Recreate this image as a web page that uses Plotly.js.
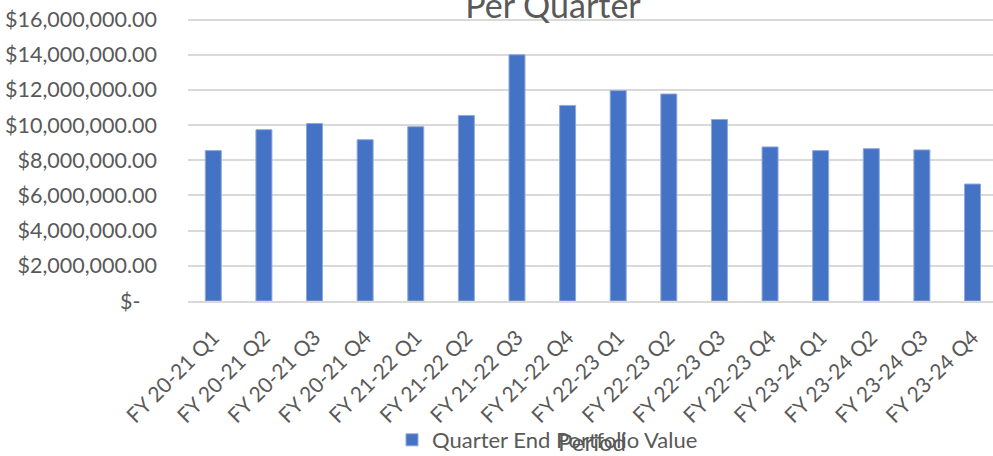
<!DOCTYPE html>
<html>
<head>
<meta charset="utf-8">
<script src="https://cdn.plot.ly/plotly-3.0.1.min.js"></script>
<style>html,body{margin:0;padding:0;background:#fff;}#chart{width:993px;height:456px;}</style>
</head>
<body>
<div id="chart"></div>
<script>
const categories = [
  "FY 20-21 Q1","FY 20-21 Q2","FY 20-21 Q3","FY 20-21 Q4",
  "FY 21-22 Q1","FY 21-22 Q2","FY 21-22 Q3","FY 21-22 Q4",
  "FY 22-23 Q1","FY 22-23 Q2","FY 22-23 Q3","FY 22-23 Q4",
  "FY 23-24 Q1","FY 23-24 Q2","FY 23-24 Q3","FY 23-24 Q4"
];
const portfolioValues = [
  8550000, 9740000, 10090000, 9170000,
  9910000, 10550000, 14000000, 11120000,
  11960000, 11770000, 10320000, 8760000,
  8550000, 8660000, 8590000, 6650000
];
const seriesName = "Quarter End Portfolio Value";
const yTickVals = [0, 2000000, 4000000, 6000000, 8000000, 10000000, 12000000, 14000000, 16000000];
const yTickText = ["$-\u00a0\u00a0\u00a0", "$2,000,000.00", "$4,000,000.00", "$6,000,000.00", "$8,000,000.00",
  "$10,000,000.00", "$12,000,000.00", "$14,000,000.00", "$16,000,000.00"];
const chartTitle = "Per Quarter";
const xTitle = "Period";

const font = "Lato, 'Open Sans', sans-serif";
const grey = "#595959";

const trace = {
  type: "bar",
  x: categories,
  y: portfolioValues,
  name: seriesName,
  width: 0.316,
  marker: {color: "#4472C4", line: {color: "#8EA9DB", width: 1}},
  showlegend: true,
  hoverinfo: "x+y"
};

const layout = {
  width: 993, height: 456,
  paper_bgcolor: "#fff", plot_bgcolor: "#fff",
  margin: {l: 188, r: 0, t: 18, b: 155, pad: 0},
  font: {family: font, color: grey, size: 22},
  title: {
    text: chartTitle,
    font: {family: font, size: 34, color: grey},
    xref: "container", x: 553/993, xanchor: "center",
    yref: "container", y: 1 - 6/456, yanchor: "middle"
  },
  xaxis: {
    type: "category",
    range: [-0.5, 15.405],
    tickangle: -45,
    tickfont: {family: font, size: 21, color: grey},
    ticklabelstandoff: 14,
    showline: true, linecolor: "#D9D9D9", linewidth: 2,
    showgrid: false, ticks: "",
    automargin: false
  },
  yaxis: {
    range: [0, 16090000],
    tickvals: yTickVals,
    ticktext: yTickText,
    tickfont: {family: font, size: 21.5, color: grey},
    showgrid: true, gridcolor: "#D9D9D9", gridwidth: 2,
    zeroline: false, showline: false, ticks: "",
    ticklabelstandoff: 30,
    automargin: false
  },
  annotations: [{
    text: xTitle,
    xref: "paper", x: (592 - 188) / 805, xanchor: "center",
    yref: "paper", y: (301 - 441) / 283, yanchor: "middle",
    showarrow: false,
    font: {family: font, size: 24, color: grey}
  }],
  showlegend: true,
  legend: {
    orientation: "h",
    xref: "container", x: 392/993, xanchor: "left",
    yref: "container", y: 1 - 440/456, yanchor: "middle",
    font: {family: font, size: 22, color: grey},
    bgcolor: "rgba(0,0,0,0)"
  },
  bargap: 0.68
};

Plotly.newPlot("chart", [trace], layout, {displayModeBar: false, responsive: false});
</script>
</body>
</html>
